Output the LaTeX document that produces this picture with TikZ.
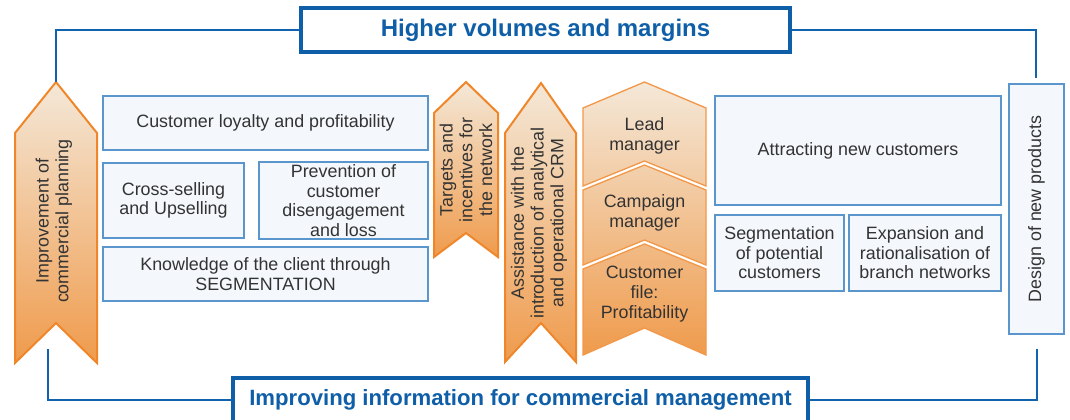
\documentclass[tikz,border=0pt]{standalone}
\usepackage{fontspec}
\setmainfont{Liberation Sans}
\usetikzlibrary{positioning,calc}

\definecolor{linkblue}{HTML}{1263AE}
\definecolor{titleblue}{HTML}{0F5EA8}
\definecolor{boxline}{HTML}{5A95CC}
\definecolor{boxfill}{HTML}{F4F8FC}
\definecolor{bandline}{HTML}{F0862A}
\definecolor{bandlight}{HTML}{F4E8D8}
\definecolor{banddark}{HTML}{EF9B4C}
\definecolor{textgray}{HTML}{333333}

\tikzset{
  infobox/.style={draw=boxline, fill=boxfill, line width=1.1pt, text=textgray,
    align=center, inner sep=2pt, font=\fontsize{13.4pt}{14.6pt}\selectfont},
  titlebox/.style={draw=titleblue, fill=white, line width=3pt, text=titleblue,
    font=\fontsize{17pt}{20pt}\selectfont\bfseries},
  link/.style={draw=linkblue, line width=1.9pt},
  band/.style={draw=bandline, line width=1.5pt, line join=miter},
  stackband/.style={draw=bandline!85!white, line width=1pt, line join=miter},
  bandtext/.style={align=center, text=textgray, inner sep=0pt,
    font=\fontsize{13.4pt}{14.8pt}\selectfont}
}

\begin{document}
\begin{tikzpicture}[x=0.75pt, y=-0.75pt]
    \clip (0,0) rectangle (1070,419);

    % Orange bands (pointing up)
    \path[band, top color=bandlight, bottom color=banddark]
        (15,133) -- (56,82) -- (97,133) -- (97,363) -- (56,323) -- (15,363) -- cycle;
    \path[band, top color=bandlight, bottom color=banddark]
        (434,113) -- (466,82) -- (498,113) -- (498,257) -- (466,233) -- (434,257) -- cycle;
    \path[band, top color=bandlight, bottom color=banddark]
        (505,133) -- (541,83) -- (576,133) -- (576,362) -- (541,323) -- (505,362) -- cycle;

    % Stack of three segments
    \path[stackband, top color=bandlight, bottom color=banddark!38!bandlight]
        (583,108) -- (644.5,82) -- (706,108) -- (706,186) -- (644.5,161) -- (583,186) -- cycle;
    \path[stackband, top color=banddark!30!bandlight, bottom color=banddark!67!bandlight]
        (583,190) -- (644.5,165) -- (706,190) -- (706,265) -- (644.5,240) -- (583,265) -- cycle;
    \path[stackband, top color=banddark!59!bandlight, bottom color=banddark]
        (583,269) -- (644.5,244) -- (706,269) -- (706,355) -- (644.5,328) -- (583,355) -- cycle;

    % Band labels
    \node[bandtext, rotate=90] (planning) at (54,221) {Improvement of\\commercial planning};
    \node[bandtext, rotate=90] (targets) at (466,170) {Targets and\\incentives for\\the network};
    \node[bandtext, rotate=90] (crm) at (539,223) {Assistance with the\\introduction of analytical\\and operational CRM};
    \node[bandtext] (lead) at (644.5,136) {Lead\\manager};
    \node[bandtext] (campaign) at (644.5,213) {Campaign\\manager};
    \node[bandtext] (custfile) at (644.5,294) {Customer\\file:\\Profitability};

    % Left block
    \node[infobox, minimum width=243.75pt, minimum height=40.5pt] (loyalty) at (265.5,123)
        {Customer loyalty and profitability};
    \node[infobox, minimum width=105.75pt, minimum height=56.25pt] (crosssell) at (173.5,200.5)
        {Cross-selling\\and Upselling};
    \node[infobox, minimum width=126.75pt, minimum height=56.25pt] (prevention) at (343.5,200.5)
        {Prevention of\\customer\\disengagement\\and loss};
    \node[infobox, minimum width=243.75pt, minimum height=40.5pt] (knowledge) at (265.5,274)
        {Knowledge of the client through\\SEGMENTATION};

    % Right block
    \node[infobox, minimum width=214.5pt, minimum height=81.75pt] (attract) at (858,150.5)
        {Attracting new customers};
    \node[infobox, minimum width=96.75pt, minimum height=57pt] (segment) at (779.5,253)
        {Segmentation\\of potential\\customers};
    \node[infobox, minimum width=114pt, minimum height=57pt] (expansion) at (925,253)
        {Expansion and\\rationalisation of\\branch networks};
    \node[infobox, rotate=90, minimum width=187.5pt, minimum height=41.25pt] (design) at (1036.5,209)
        {Design of new products};

    % Titles
    \node[titlebox, font=\fontsize{18pt}{20pt}\selectfont\bfseries,
        minimum width=366.75pt, minimum height=33pt] (volumes) at (545.5,30)
        {Higher volumes and margins};
    \node[titlebox, font=\fontsize{16.6pt}{20pt}\selectfont\bfseries,
        minimum width=431.25pt, minimum height=33pt] (info) at (520.5,400)
        {Improving information for commercial management};

    % Frame connectors
    \coordinate (plantip) at (56,82);
    \coordinate (designtop) at (1036,78);
    \coordinate (planfoot) at (48,349);
    \coordinate (designfoot) at (1037,349);
    \draw[link] (volumes.west) -| (plantip);
    \draw[link] (volumes.east) -| (designtop);
    \draw[link] (planfoot) |- (info.west);
    \draw[link] (designfoot) |- (info.east);
\end{tikzpicture}
\end{document}
